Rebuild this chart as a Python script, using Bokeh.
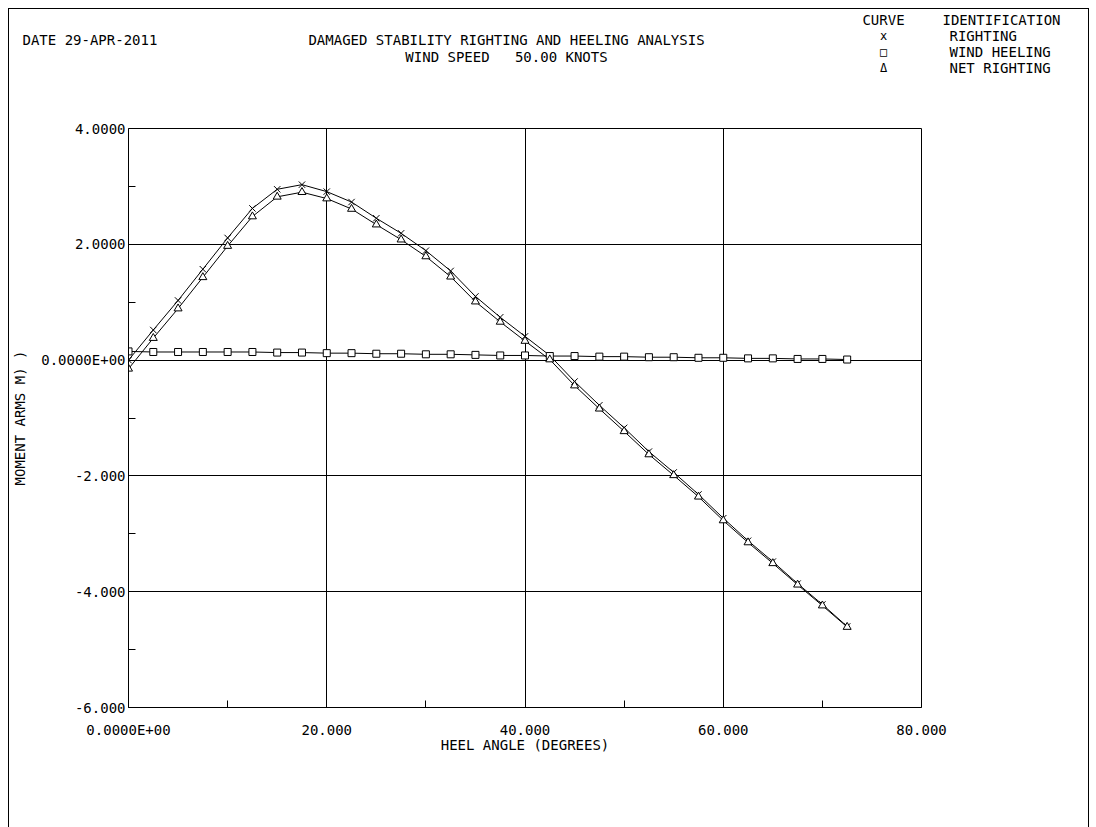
from bokeh.plotting import figure
from bokeh.models import FixedTicker, ColumnDataSource, Range1d
from bokeh.layouts import column
from bokeh.core.properties import value
from bokeh.embed import file_html
from bokeh.resources import INLINE

# ---- data ----
heel_angle = [0.0, 2.5, 5.0, 7.5, 10.0, 12.5, 15.0, 17.5, 20.0, 22.5, 25.0, 27.5,
              30.0, 32.5, 35.0, 37.5, 40.0, 42.5, 45.0, 47.5, 50.0, 52.5, 55.0,
              57.5, 60.0, 62.5, 65.0, 67.5, 70.0, 72.5]
righting = [0.00, 0.52, 1.03, 1.57, 2.11, 2.62, 2.95, 3.03, 2.91, 2.73, 2.45, 2.19,
            1.89, 1.54, 1.10, 0.74, 0.41, 0.08, -0.37, -0.78, -1.17, -1.58, -1.94,
            -2.32, -2.73, -3.12, -3.48, -3.86, -4.22, -4.60]
wind_heeling = [0.15, 0.14, 0.14, 0.14, 0.14, 0.14, 0.13, 0.13, 0.12, 0.12, 0.11, 0.11,
                0.10, 0.10, 0.09, 0.08, 0.08, 0.07, 0.07, 0.06, 0.06, 0.05, 0.05,
                0.04, 0.04, 0.03, 0.03, 0.02, 0.02, 0.01]
net_righting = [-0.15, 0.38, 0.89, 1.43, 1.97, 2.48, 2.82, 2.90, 2.79, 2.61, 2.34, 2.08,
                1.79, 1.44, 1.01, 0.66, 0.33, 0.01, -0.44, -0.84, -1.23, -1.63, -1.99,
                -2.36, -2.77, -3.15, -3.51, -3.88, -4.24, -4.61]

x_ticks = [0, 20, 40, 60, 80]
x_minor = [10, 30, 50, 70]
x_tick_labels = ["0.0000E+00", "20.000", "40.000", "60.000", "80.000"]
y_ticks = [-6, -4, -2, 0, 2, 4]
y_minor = [-5, -3, -1, 1, 3]
y_tick_labels = ["-6.000", "-4.000", "-2.000", "0.0000E+00", "2.0000", "4.0000"]

date_text = "DATE 29-APR-2011"
title_lines = ["DAMAGED STABILITY RIGHTING AND HEELING ANALYSIS",
               "WIND SPEED\u00a0\u00a0\u00a050.00 KNOTS"]
legend_head = ["CURVE", "IDENTIFICATION"]
legend_names = ["RIGHTING", "WIND HEELING", "NET RIGHTING"]
legend_symbols = ["x", "\u25a1", "\u0394"]

FONT = "DejaVu Sans Mono"
FS = "14px"

# ---- geometry (page pixels) ----
CX0, CY0 = 9, 9          # content origin inside the 1px border
CW = 1079
HEAD_H = 110
MAIN_H = 708
FRAME_L, FRAME_R, FRAME_T, FRAME_B = 126, 921, 128, 707

# ---- header (texts above the plot) ----
head = figure(width=CW, height=HEAD_H,
              x_range=Range1d(CX0, CX0 + CW), y_range=Range1d(CY0 + HEAD_H, CY0),
              output_backend="svg", toolbar_location=None,
              min_border=0, min_border_left=0, min_border_right=0,
              min_border_top=0, min_border_bottom=0)
head.frame_align = False
head.axis.visible = False
head.grid.visible = False
head.outline_line_color = None
head.background_fill_color = "white"
head.border_fill_color = "white"

def htext(xs, ys, texts, align="left", size=FS):
    head.text(x=xs, y=ys, text=texts, text_font=value(FONT), text_font_size=size,
              text_color="black", text_align=align, text_baseline="middle")

htext([22], [39], [date_text])
htext([506, 506], [39, 56], title_lines, "center")
htext([883], [19], [legend_head[0]], "center")
htext([942], [19], [legend_head[1]])
rows_y = [35, 51, 67]
htext([883] * 3, rows_y, legend_symbols, "center", size="12px")
htext([949] * 3, rows_y, legend_names)

# ---- main plot ----
main_top = CY0 + HEAD_H
p = figure(width=CW, height=MAIN_H, x_range=(0, 80), y_range=(-6, 4),
           output_backend="svg", toolbar_location=None,
           min_border_left=FRAME_L - CX0, min_border_right=CX0 + CW - FRAME_R,
           min_border_top=FRAME_T - main_top,
           min_border_bottom=main_top + MAIN_H - FRAME_B)
p.frame_align = False
p.background_fill_color = "white"
p.border_fill_color = "white"
p.outline_line_color = "black"
p.outline_line_width = 1

for ax in (p.xaxis[0], p.yaxis[0]):
    ax.axis_line_color = "black"
    ax.major_tick_in = 0
    ax.major_tick_out = 0
    ax.minor_tick_in = 7
    ax.minor_tick_out = 0
    ax.minor_tick_line_color = "black"
    ax.major_label_text_font = FONT
    ax.major_label_text_font_size = FS
    ax.major_label_text_color = "black"
    ax.axis_label_text_font = FONT
    ax.axis_label_text_font_size = FS
    ax.axis_label_text_font_style = "normal"
    ax.axis_label_text_color = "black"

p.xaxis.ticker = FixedTicker(ticks=x_ticks, minor_ticks=x_minor)
p.yaxis.ticker = FixedTicker(ticks=y_ticks, minor_ticks=y_minor)
p.xaxis.major_label_overrides = {t: l for t, l in zip(x_ticks, x_tick_labels)}
p.yaxis.major_label_overrides = {t: l for t, l in zip(y_ticks, y_tick_labels)}
p.xaxis.major_label_standoff = 14
p.yaxis.major_label_standoff = 3
p.xaxis.axis_label = "HEEL ANGLE (DEGREES)"
p.xaxis.axis_label_standoff = -4
p.yaxis.axis_label = "MOMENT ARMS M) )"
p.yaxis.axis_label_standoff = 10

p.xgrid.ticker = FixedTicker(ticks=x_ticks)
p.ygrid.ticker = FixedTicker(ticks=y_ticks)
for g in (p.xgrid[0], p.ygrid[0]):
    g.grid_line_color = "black"
    g.grid_line_width = 1
    g.grid_line_alpha = 1.0

src = ColumnDataSource(dict(x=heel_angle, r=righting, w=wind_heeling, n=net_righting))

p.line("x", "r", source=src, line_color="black", line_width=1)
p.line("x", "w", source=src, line_color="black", line_width=1)
p.line("x", "n", source=src, line_color="black", line_width=1)
p.scatter("x", "r", source=src, marker="x", size=9, line_color="black", line_width=1)
p.scatter("x", "w", source=src, marker="square", size=7, line_color="black",
          fill_color="white", line_width=1)
p.scatter("x", "n", source=src, marker="triangle", size=8, line_color="black",
          fill_color="white", line_width=1)

layout = column(head, p, spacing=0,
                styles={"border": "1px solid black", "margin-left": "8px",
                        "margin-top": "8px"})

open("out.html", "w").write(file_html(layout, INLINE))
